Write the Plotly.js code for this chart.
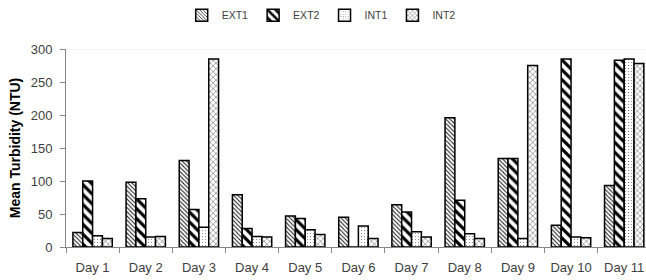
<!DOCTYPE html>
<html><head><meta charset="utf-8">
<script src="https://cdn.plot.ly/plotly-3.0.1.min.js"></script>
<style>html,body{margin:0;padding:0;background:#fff;}#chart{width:646px;height:280px;}</style>
</head><body><div id="chart"></div>
<script>
var days = ["Day 1","Day 2","Day 3","Day 4","Day 5","Day 6","Day 7","Day 8","Day 9","Day 10","Day 11"];
var ext1 = [22, 98, 131, 79, 47, 45, 64, 196, 134, 33, 93];
var ext2 = [100, 73, 57, 28, 43, 0, 53, 71, 134, 285, 283];
var int1 = [17, 15, 30, 16, 26, 32, 23, 20, 13, 15, 285];
var int2 = [13, 16, 285, 15, 19, 13, 15, 13, 275, 14, 278];
var seriesNames = ["EXT1","EXT2","INT1","INT2"];
var yTicks = [0, 50, 100, 150, 200, 250, 300];

var patterns = [
  {shape: "\\", size: 3, solidity: 0.35, fgcolor: "#222", bgcolor: "#fff"},
  {shape: "\\", size: 7, solidity: 0.45, fgcolor: "#000", bgcolor: "#fff"},
  {shape: ".", size: 3, solidity: 0.08, fgcolor: "#333", bgcolor: "#fff"},
  {shape: "x", size: 4, solidity: 0.2, fgcolor: "#333", bgcolor: "#fff"}
];
var vals = [ext1, ext2, int1, int2];
var font = "'Liberation Sans', Arial, sans-serif";
var traces = vals.map(function(v, i){
  return {
    type: "bar", name: seriesNames[i], x: days, y: v,
    marker: {color: "#fff", pattern: patterns[i], line: {color: "#000", width: 1.5}}
  };
});
var layout = {
  width: 646, height: 280,
  margin: {l: 66, r: 0, t: 49, b: 33},
  paper_bgcolor: "#fff", plot_bgcolor: "#fff",
  barmode: "group", bargap: 0.26, bargroupgap: 0,
  font: {family: font, size: 13, color: "#404040"},
  showlegend: true,
  legend: {orientation: "h", x: 0.44, xanchor: "center", y: 1.17, yanchor: "middle",
           font: {size: 10.5, color: "#404040"}, itemwidth: 30, tracegroupgap: 0},
  xaxis: {
    range: [-0.5, 10.41], showline: true, linecolor: "#868686", linewidth: 1,
    ticks: "outside", tickson: "boundaries", ticklen: 5, tickcolor: "#868686",
    showgrid: false, tickfont: {size: 13, color: "#404040"}, zeroline: false,
    ticklabelstandoff: 8
  },
  yaxis: {
    range: [0, 300], tickvals: yTicks, showline: true, linecolor: "#868686", linewidth: 1,
    ticks: "outside", ticklen: 5, tickcolor: "#868686",
    showgrid: false, zeroline: false, ticklabelstandoff: 5,
    tickfont: {size: 13, color: "#404040"},
    title: {text: "<b>Mean Turbidity (NTU)</b>", font: {size: 14, color: "#000"}, standoff: 6}
  },
  shapes: [{type: "line", xref: "paper", yref: "y", x0: 0, x1: 1, y0: 300, y1: 300,
            line: {color: "#e6e6e6", width: 1}}]
};
Plotly.newPlot("chart", traces, layout, {displayModeBar: false, staticPlot: true});
</script>
</body></html>
